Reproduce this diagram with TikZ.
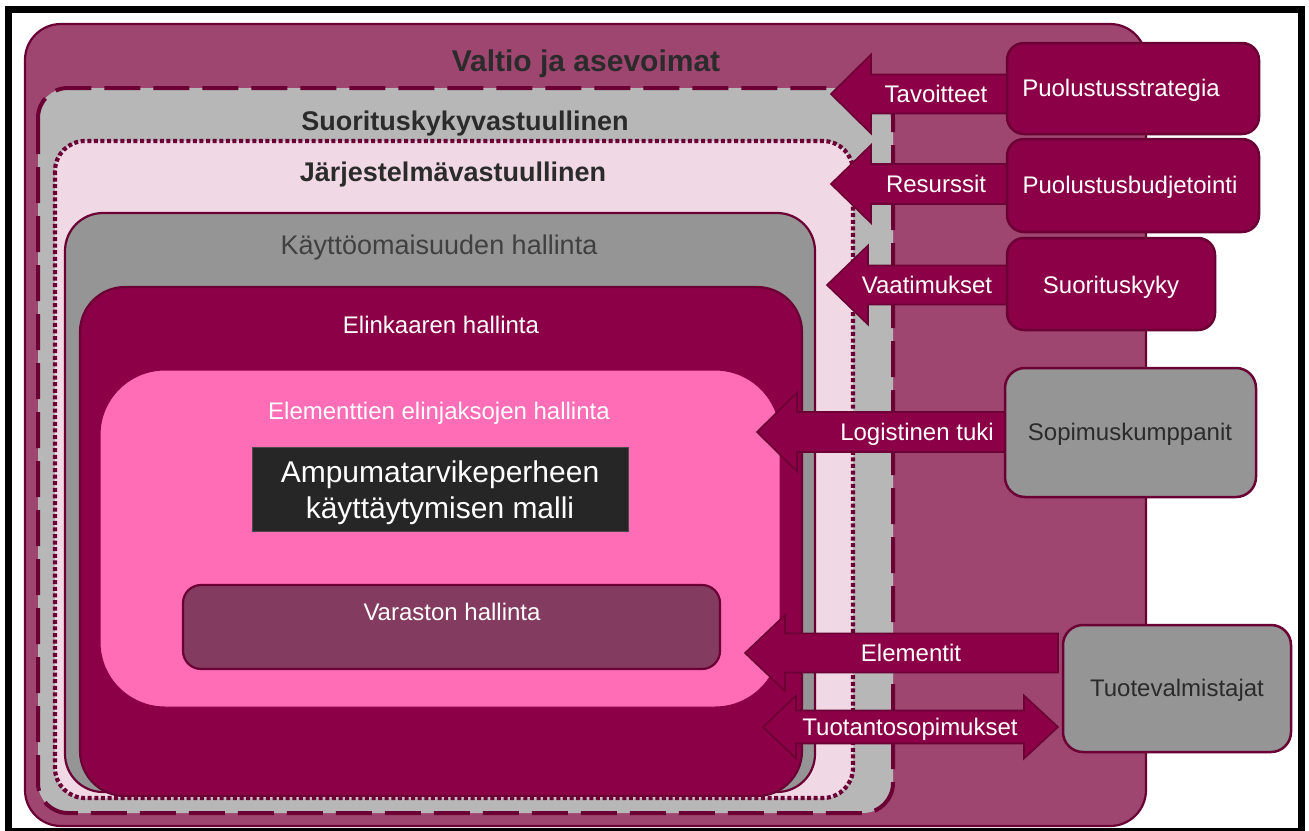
\documentclass[tikz,border=0pt]{standalone}
\usepackage{fontspec}
\setmainfont{Liberation Sans}
\definecolor{cMauve}{HTML}{9E4670}
\definecolor{cLine}{HTML}{6B0035}
\definecolor{cLgray}{HTML}{B7B7B7}
\definecolor{cLpink}{HTML}{F0D8E4}
\definecolor{cGray}{HTML}{959595}
\definecolor{cCrim}{HTML}{8B0046}
\definecolor{cPink}{HTML}{FF6DB6}
\definecolor{cPlum}{HTML}{833B60}
\definecolor{cBlack}{HTML}{262626}
\definecolor{cDark}{HTML}{2B2B2B}
\tikzset{
  cont/.style={draw=cLine, line width=2.2pt, inner sep=0pt, outer sep=0pt},
  rbox/.style={draw=cLine, line width=2.5pt, inner sep=0pt, rounded corners=17pt},
  blk/.style={fill=cCrim, draw=cLine, line width=1.6pt, line join=miter},
  tw/.style={text=white, inner sep=0pt, anchor=base, yshift=-8.6pt, font=\fontsize{24}{28}\selectfont},
  td/.style={text=cDark, inner sep=0pt, anchor=base, yshift=-8.6pt, font=\fontsize{24}{28}\selectfont},
  th/.style={text=cDark, inner sep=0pt, anchor=base, yshift=-9.7pt, font=\bfseries\fontsize{27}{32}\selectfont},
  tk/.style={text=cDark, inner sep=0pt, anchor=base, yshift=-9.7pt, font=\fontsize{27}{32}\selectfont},
  tbig/.style={text=white, inner sep=0pt, anchor=base, font=\fontsize{30}{36}\selectfont},
}
\newcommand\leftblock[6]{% tip x, y, back x, end x, shaft half, head half
  \draw[blk] (#1,#2) -- (#3,#2-#6) -- (#3,#2-#5) -- (#4,#2-#5) -- (#4,#2+#5) -- (#3,#2+#5) -- (#3,#2+#6) -- cycle;}
\begin{document}
\begin{tikzpicture}[x=1pt,y=-1pt]
\useasboundingbox (0,0) rectangle (1309,830);
\fill[white] (0,0) rectangle (1309,830);

% containers
\node[cont, fill=cMauve, rounded corners=36pt, minimum width=1121pt, minimum height=802pt] (valtio) at (585.5,425) {};
\node[cont, fill=cLgray, draw=none, rounded corners=30pt, minimum width=855pt, minimum height=725pt] (suor) at (465.5,450.5) {};
\draw[cLine, line width=4pt, dash pattern=on 36pt off 13pt, rounded corners=30pt] (38,88) rectangle (893,813);
\node[cont, fill=cLpink, draw=none, rounded corners=30pt, minimum width=798pt, minimum height=657pt] (jarj) at (454,469.5) {};
\draw[cLine, line width=4.2pt, dash pattern=on 4pt off 2.6pt, rounded corners=30pt] (55,141) rectangle (853,798);
\node[cont, fill=cGray, rounded corners=38pt, minimum width=750pt, minimum height=579pt] (kayt) at (440,502.5) {};
\node[cont, fill=cCrim, rounded corners=45pt, minimum width=722pt, minimum height=509pt] (elink) at (441,541.5) {};
\node[cont, fill=cPink, draw=cCrim, line width=1pt, rounded corners=65pt, minimum width=680pt, minimum height=337pt] (elem) at (440,538.5) {};
\node[fill=cBlack, draw=black!70, line width=0.6pt, inner sep=0pt, minimum width=376pt, minimum height=84pt] (malli) at (440,489) {};
\node[cont, fill=cPlum, rounded corners=18pt, minimum width=537pt, minimum height=84pt] (varas) at (451.5,627) {};

% container texts
\node[th, font=\bfseries\fontsize{30}{36}\selectfont, yshift=-1.1pt] (tvaltio) at (586,61) {Valtio ja asevoimat};
\node[th] (tsuor) at (465,121) {Suorituskykyvastuullinen};
\node[th] (tjarj) at (453,172) {Järjestelmävastuullinen};
\node[tk, text=cDark!90] (tkayt) at (439,245) {Käyttöomaisuuden hallinta};
\node[tw] (telink) at (441,325) {Elinkaaren hallinta};
\node[tw] (telem) at (439,411) {Elementtien elinjaksojen hallinta};
\node[tbig] (tmalli1) at (440,482) {Ampumatarvikeperheen};
\node[tbig] (tmalli2) at (440,518) {käyttäytymisen malli};
\node[tw] (tvaras) at (452,612) {Varaston hallinta};

% arrows
\leftblock{831}{94}{871}{1012}{19.5}{39.5}
\leftblock{831}{184}{871}{1012}{20}{39}
\leftblock{827}{285}{868}{1012}{19.5}{39.5}
\leftblock{757}{432}{797}{1010}{20}{39.5}
\leftblock{745}{653}{785}{1058}{19.5}{38}
\draw[blk] (763,727) -- (796,695.5) -- (796,710.5) -- (1024,710.5) -- (1024,695.5) -- (1058,727)
  -- (1024,758.5) -- (1024,743.5) -- (796,743.5) -- (796,758.5) -- cycle;

% right boxes
\node[rbox, fill=cCrim, minimum width=252pt, minimum height=91pt] (strat) at (1133,88.5) {};
\node[rbox, fill=cCrim, minimum width=252pt, minimum height=93pt] (budj) at (1133,185.5) {};
\node[rbox, fill=cCrim, minimum width=208pt, minimum height=92pt] (kyky) at (1111,284) {};
\node[rbox, fill=cGray, rounded corners=20pt, minimum width=251pt, minimum height=129pt] (sopim) at (1130.5,432.5) {};
\node[rbox, fill=cGray, rounded corners=20pt, minimum width=228pt, minimum height=127pt] (tuote) at (1177,688.5) {};

\node[tw] (tstrat) at (1121,88) {Puolustusstrategia};
\node[tw] (tbudj) at (1130,185) {Puolustusbudjetointi};
\node[tw] (tkyky) at (1111,285) {Suorituskyky};
\node[td] (tsopim) at (1130,432) {Sopimuskumppanit};
\node[td] (ttuote) at (1177,688) {Tuotevalmistajat};

% arrow labels
\node[tw] (ltav) at (936,94) {Tavoitteet};
\node[tw] (lres) at (936,184) {Resurssit};
\node[tw] (lvaa) at (927,285) {Vaatimukset};
\node[tw] (llog) at (917,432) {Logistinen tuki};
\node[tw] (lele) at (911,653) {Elementit};
\node[tw] (ltuo) at (910,727) {Tuotantosopimukset};

% frame
\draw[black, line width=7pt] (8,9.5) rectangle (1301.5,831);
\end{tikzpicture}
\end{document}
